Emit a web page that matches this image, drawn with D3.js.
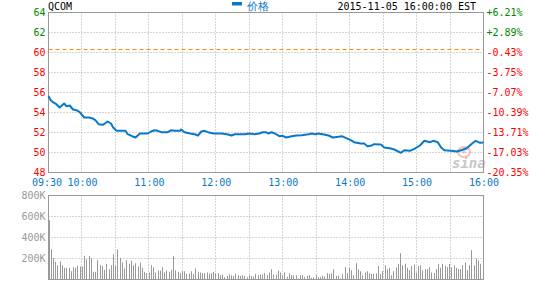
<!DOCTYPE html>
<html><head><meta charset="utf-8">
<script src="https://cdn.jsdelivr.net/npm/d3@7/dist/d3.min.js"></script>
<style>body{margin:0;background:#fff}svg{display:block}text{font-family:"DejaVu Sans Mono",monospace}</style>
</head><body><svg id="c" width="550" height="292"></svg>
<script>
// ---------- data ----------
const symbol = "QCOM";
const legendLabel = "价格";
const dateLabel = "2015-11-05 16:00:00 EST";
const prevClose = 60.26;
const priceTicks = [64, 62, 60, 58, 56, 54, 52, 50, 48];
const pctLabels = ["+6.21%", "+2.89%", "-0.43%", "-3.75%", "-7.07%", "-10.39%", "-13.71%", "-17.03%", "-20.35%"];
const timeTickMinutes = [0, 30, 90, 150, 210, 270, 330, 390];
const timeLabels = ["09:30", "10:00", "11:00", "12:00", "13:00", "14:00", "15:00", "16:00"];
const volTicks = [200, 400, 600, 800];
const volLabels = ["200K", "400K", "600K", "800K"];

// minutes after 09:30 and price
const priceMinutes = [0, 2, 4, 7, 10, 12, 14, 16, 19, 22, 25, 28, 32, 36, 39, 42, 45, 49, 53, 56, 58, 61, 69, 71, 75, 78, 82, 89, 92, 95, 98, 101, 107, 110, 113, 118, 119, 122, 127, 131, 134, 137, 140, 143, 148, 155, 160, 164, 167, 176, 180, 185, 189, 192, 195, 197, 200, 203, 207, 210, 213, 218, 222, 227, 233, 236, 239, 242, 246, 251, 255, 260, 263, 267, 271, 274, 280, 283, 286, 289, 292, 298, 301, 306, 310, 316, 319, 324, 328, 333, 337, 342, 345, 349, 352, 355, 361, 366, 370, 375, 379, 383, 387, 390];
const priceValues = [55.66, 55.23, 55.03, 54.83, 54.5, 54.7, 54.9, 54.63, 54.7, 54.3, 54.23, 54.03, 53.5, 53.5, 53.43, 53.23, 52.83, 52.77, 53.1, 52.9, 52.5, 52.17, 52.17, 51.83, 51.63, 51.5, 51.9, 51.9, 52.1, 52.23, 52.17, 52.03, 52.03, 52.23, 52.17, 52.17, 52.3, 52.03, 51.9, 51.83, 51.7, 52.1, 52.17, 52.03, 51.9, 51.9, 51.83, 51.7, 51.83, 51.83, 51.9, 51.83, 51.9, 52.03, 52.03, 51.9, 52.03, 51.9, 51.63, 51.67, 51.5, 51.63, 51.7, 51.73, 51.83, 51.9, 51.83, 51.9, 51.83, 51.7, 51.5, 51.57, 51.63, 51.43, 51.23, 51.03, 50.9, 50.9, 50.63, 50.67, 50.83, 50.8, 50.5, 50.43, 50.3, 49.97, 50.23, 50.17, 50.37, 50.7, 51.17, 51.03, 51.17, 51.03, 50.5, 50.23, 50.17, 50.1, 50.23, 50.43, 50.83, 51.17, 50.97, 51.0];

// volume per 2-minute bar, thousands of shares
const volumes = [564, 288, 206, 168, 136, 174, 136, 111, 111, 111, 79, 117, 111, 130, 124, 124, 225, 193, 225, 200,
  73, 73, 184, 136, 130, 92, 149, 98, 136, 244, 130, 288, 206, 162, 105, 184, 149, 181, 136, 155,
  124, 162, 111, 73, 60, 67, 136, 117, 67, 86, 86, 117, 67, 86, 73, 92, 225, 86, 73, 60,
  79, 79, 54, 60, 79, 54, 105, 73, 67, 60, 60, 67, 54, 60, 73, 60, 60, 41, 48, 22,
  35, 48, 41, 35, 54, 41, 35, 41, 35, 22, 41, 35, 29, 54, 41, 48, 48, 60, 41, 67,
  98, 48, 48, 86,
  67, 41, 67, 25, 60, 41, 41, 41, 10, 41, 41, 22, 35, 41, 16, 22, 41, 22, 22, 35,
  29, 60, 54, 60, 98, 35, 35, 10, 54, 117, 60, 111, 89, 41, 155, 98, 79, 41, 67, 79,
  60, 54, 54, 60, 127, 54, 79, 136, 98, 111, 41, 79, 117, 149, 250, 136, 149, 111, 89, 130,
  143, 67, 130, 136, 86, 98, 98, 117, 67, 60, 98, 149, 111, 149, 130, 117, 149, 117, 136, 111,
  98, 98, 136, 162, 89, 136, 279, 136, 200, 181, 149, 250];

// ---------- drawing ----------
const svg = d3.select("#c");
const L = 48.5, R = 483.5, T = 12.5, B = 172.5, VT = 195.5, VB = 279.5;
const x = d3.scaleLinear().domain([0, 390]).range([L, R]);
const y = d3.scaleLinear().domain([48, 64]).range([B, T]);
const vy = d3.scaleLinear().domain([0, 800]).range([VB, VT]);
const vx = d3.scaleLinear().domain([0, volumes.length - 1]).range([L, R - 1]);
const gridColor = "#aaa", borderColor = "#999", blue = "#0a78c8", green = "#008800", red = "#ff0000";
const halfHours = d3.range(30, 390, 30);
const snap = v => Math.round(v - 0.5) + 0.5;

function grid(top, bottom, yVals, ys) {
  svg.append("g").selectAll("line.v").data(halfHours).join("line")
    .attr("x1", d => snap(x(d))).attr("x2", d => snap(x(d)))
    .attr("y1", top).attr("y2", bottom)
    .attr("stroke", gridColor).attr("stroke-dasharray", "1,2");
  svg.append("g").selectAll("line.h").data(yVals).join("line")
    .attr("x1", L).attr("x2", R)
    .attr("y1", d => snap(ys(d))).attr("y2", d => snap(ys(d)))
    .attr("stroke", gridColor).attr("stroke-dasharray", "1,2");
  svg.append("rect").attr("x", L).attr("y", top).attr("width", R - L).attr("height", bottom - top)
    .attr("fill", "none").attr("stroke", borderColor);
}

grid(T, B, priceTicks.slice(1, -1), y);
grid(VT, VB, volTicks.slice(0, -1), vy);

// prev close dashed line
svg.append("line").attr("x1", L).attr("x2", R)
  .attr("y1", snap(y(prevClose))).attr("y2", snap(y(prevClose)))
  .attr("stroke", "#ff8c00").attr("stroke-dasharray", "4,3");

// sina watermark
const wm = svg.append("g").attr("opacity", 0.55);
wm.append("ellipse").attr("cx", 464).attr("cy", 152).attr("rx", 6).attr("ry", 5)
  .attr("fill", "none").attr("stroke", "#f08a8a").attr("stroke-width", 2);
wm.append("circle").attr("cx", 464).attr("cy", 152).attr("r", 1.6).attr("fill", "#f08a8a");
wm.append("text").attr("x", 452).attr("y", 168).attr("font-family", "DejaVu Sans")
  .attr("font-style", "italic").attr("font-weight", "bold").attr("font-size", 14)
  .attr("fill", "#999").text("sina");

// price line
const pts = priceMinutes.map((m, i) => [m, priceValues[i]]);
svg.append("path").datum(pts)
  .attr("d", d3.line().x(d => x(d[0])).y(d => y(d[1])))
  .attr("fill", "none").attr("stroke", blue).attr("stroke-width", 2).attr("stroke-linejoin", "round");

// volume bars
svg.append("g").selectAll("rect").data(volumes).join("rect")
  .attr("x", (d, i) => Math.round(vx(i)))
  .attr("y", d => vy(d)).attr("width", 1).attr("height", d => VB - vy(d))
  .attr("fill", "#999");

// left price axis
const ga = svg.append("g").attr("transform", `translate(${L - 2},0)`)
  .call(d3.axisLeft(y).tickValues(priceTicks).tickSize(0).tickPadding(1).tickFormat(d3.format("d")));
ga.select(".domain").remove();
ga.selectAll("text").attr("font-family", "DejaVu Sans Mono").attr("font-size", 10)
  .attr("fill", d => d > prevClose ? green : red);

// right pct axis
const gr = svg.append("g").attr("transform", `translate(${R + 2},0)`)
  .call(d3.axisRight(y).tickValues(priceTicks).tickSize(0).tickPadding(1).tickFormat((d, i) => pctLabels[i]));
gr.select(".domain").remove();
gr.selectAll("text").attr("font-family", "DejaVu Sans Mono").attr("font-size", 10)
  .attr("fill", d => d > prevClose ? green : red);

// time axis
const gt = svg.append("g").attr("transform", `translate(0,${B})`)
  .call(d3.axisBottom(x).tickValues(timeTickMinutes).tickSize(0).tickPadding(6).tickFormat((d, i) => timeLabels[i]));
gt.select(".domain").remove();
gt.selectAll("text").attr("font-family", "DejaVu Sans Mono").attr("font-size", 10).attr("fill", blue);
gt.selectAll(".tick").filter(d => d === 0).select("text").attr("dx", -2);

// volume axis
const gv = svg.append("g").attr("transform", `translate(${L - 2},0)`)
  .call(d3.axisLeft(vy).tickValues(volTicks).tickSize(0).tickPadding(1).tickFormat((d, i) => volLabels[i]));
gv.select(".domain").remove();
gv.selectAll("text").attr("font-family", "DejaVu Sans Mono").attr("font-size", 10).attr("fill", "#999");

// header
svg.append("text").attr("x", 48).attr("y", 10).attr("font-size", 10).attr("fill", "#000").text(symbol);
svg.append("rect").attr("x", 232).attr("y", 2).attr("width", 10).attr("height", 3.5).attr("fill", blue);
svg.append("text").attr("x", 247).attr("y", 10).attr("font-family", "Noto Sans CJK SC").attr("font-size", 11)
  .attr("fill", blue).text(legendLabel);
svg.append("text").attr("x", 476).attr("y", 10).attr("text-anchor", "end").attr("font-size", 10)
  .attr("fill", "#000").text(dateLabel);
</script></body></html>
